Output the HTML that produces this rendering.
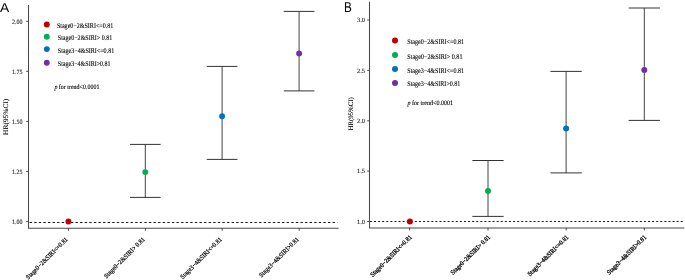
<!DOCTYPE html>
<html><head><meta charset="utf-8"><style>
html,body{margin:0;padding:0;background:#fff;}
body{width:685px;height:280px;overflow:hidden;}
svg{display:block;will-change:transform;} text{text-rendering:geometricPrecision;}
</style></head><body>
<svg width="685" height="280" viewBox="0 0 685 280" font-family="'Liberation Serif', serif">
<text transform="translate(0.1,12.3) scale(1.07,1)" font-family="'Liberation Sans', sans-serif" font-size="12.9" fill="#000">A</text>
<text transform="translate(7.9,116.8) rotate(-90)" font-size="7.0" text-anchor="middle" textLength="36.2" lengthAdjust="spacingAndGlyphs" fill="#000" stroke="#000" stroke-width="0.08" font-family="'Liberation Serif', serif">HR(95%CI)</text>
<line x1="26.2" y1="21.3" x2="28.5" y2="21.3" stroke="#333333" stroke-width="0.9"/>
<text x="22.6" y="23.8" font-size="6.6" text-anchor="end" textLength="10.6" lengthAdjust="spacingAndGlyphs" fill="#222" stroke="#222" stroke-width="0.12" font-family="'Liberation Serif', serif">2.00</text>
<line x1="26.2" y1="71.3" x2="28.5" y2="71.3" stroke="#333333" stroke-width="0.9"/>
<text x="22.6" y="73.8" font-size="6.6" text-anchor="end" textLength="10.6" lengthAdjust="spacingAndGlyphs" fill="#222" stroke="#222" stroke-width="0.12" font-family="'Liberation Serif', serif">1.75</text>
<line x1="26.2" y1="121.4" x2="28.5" y2="121.4" stroke="#333333" stroke-width="0.9"/>
<text x="22.6" y="123.9" font-size="6.6" text-anchor="end" textLength="10.6" lengthAdjust="spacingAndGlyphs" fill="#222" stroke="#222" stroke-width="0.12" font-family="'Liberation Serif', serif">1.50</text>
<line x1="26.2" y1="171.5" x2="28.5" y2="171.5" stroke="#333333" stroke-width="0.9"/>
<text x="22.6" y="174.0" font-size="6.6" text-anchor="end" textLength="10.6" lengthAdjust="spacingAndGlyphs" fill="#222" stroke="#222" stroke-width="0.12" font-family="'Liberation Serif', serif">1.25</text>
<line x1="26.2" y1="221.6" x2="28.5" y2="221.6" stroke="#333333" stroke-width="0.9"/>
<text x="22.6" y="224.1" font-size="6.6" text-anchor="end" textLength="10.6" lengthAdjust="spacingAndGlyphs" fill="#222" stroke="#222" stroke-width="0.12" font-family="'Liberation Serif', serif">1.00</text>
<line x1="28.5" y1="222.5" x2="337.5" y2="222.5" stroke="#1a1a1a" stroke-width="1.0" stroke-dasharray="2.4 2.19" stroke-dashoffset="-1.1"/>
<path d="M28.5,5 L28.5,228.3 L338.6,228.3" fill="none" stroke="#4a4a4a" stroke-width="1.05" stroke-linejoin="round"/>
<line x1="68.4" y1="228.3" x2="68.4" y2="230.8" stroke="#333333" stroke-width="0.9"/>
<line x1="145.4" y1="228.3" x2="145.4" y2="230.8" stroke="#333333" stroke-width="0.9"/>
<line x1="222.2" y1="228.3" x2="222.2" y2="230.8" stroke="#333333" stroke-width="0.9"/>
<line x1="299.2" y1="228.3" x2="299.2" y2="230.8" stroke="#333333" stroke-width="0.9"/>
<circle cx="68.4" cy="221.5" r="2.95" fill="#C00000"/>
<line x1="145.3" y1="144.4" x2="145.3" y2="197.4" stroke="#444" stroke-width="1.0"/>
<line x1="129.95000000000002" y1="144.4" x2="160.65" y2="144.4" stroke="#333333" stroke-width="1.0"/>
<line x1="129.95000000000002" y1="197.4" x2="160.65" y2="197.4" stroke="#333333" stroke-width="1.0"/>
<circle cx="145.3" cy="172.1" r="2.95" fill="#00B050"/>
<line x1="222.1" y1="66.4" x2="222.1" y2="159.4" stroke="#444" stroke-width="1.0"/>
<line x1="206.75" y1="66.4" x2="237.45" y2="66.4" stroke="#333333" stroke-width="1.0"/>
<line x1="206.75" y1="159.4" x2="237.45" y2="159.4" stroke="#333333" stroke-width="1.0"/>
<circle cx="222.1" cy="116.3" r="2.95" fill="#0070C0"/>
<line x1="299.1" y1="11.4" x2="299.1" y2="90.9" stroke="#444" stroke-width="1.0"/>
<line x1="283.75" y1="11.4" x2="314.45000000000005" y2="11.4" stroke="#333333" stroke-width="1.0"/>
<line x1="283.75" y1="90.9" x2="314.45000000000005" y2="90.9" stroke="#333333" stroke-width="1.0"/>
<circle cx="299.1" cy="53.4" r="2.95" fill="#7030A0"/>
<circle cx="46.8" cy="24.5" r="2.95" fill="#C00000"/>
<text x="56.9" y="28.0" font-size="7.2" text-anchor="start" textLength="56.4" lengthAdjust="spacingAndGlyphs" fill="#000" stroke="#000" stroke-width="0.12" font-family="'Liberation Serif', serif">Stage0−2&amp;SIRI&lt;=0.81</text>
<circle cx="46.8" cy="36.7" r="2.95" fill="#00B050"/>
<text x="57.8" y="40.2" font-size="7.2" text-anchor="start" textLength="54.4" lengthAdjust="spacingAndGlyphs" fill="#000" stroke="#000" stroke-width="0.12" font-family="'Liberation Serif', serif">Stage0−2&amp;SIRI&gt; 0.81</text>
<circle cx="46.8" cy="49.1" r="2.95" fill="#0070C0"/>
<text x="57.8" y="52.6" font-size="7.2" text-anchor="start" textLength="56.4" lengthAdjust="spacingAndGlyphs" fill="#000" stroke="#000" stroke-width="0.12" font-family="'Liberation Serif', serif">Stage3−4&amp;SIRI&lt;=0.81</text>
<circle cx="46.8" cy="62.7" r="2.95" fill="#7030A0"/>
<text x="57.8" y="66.2" font-size="7.2" text-anchor="start" textLength="52.8" lengthAdjust="spacingAndGlyphs" fill="#000" stroke="#000" stroke-width="0.12" font-family="'Liberation Serif', serif">Stage3−4&amp;SIRI&gt;0.81</text>
<text x="54.4" y="88.6" font-size="6.7" textLength="45.0" lengthAdjust="spacingAndGlyphs" fill="#000" stroke="#000" stroke-width="0.12" font-family="'Liberation Serif', serif"><tspan font-style="italic">p</tspan> for trend&lt;0.0001</text>
<text transform="translate(68.2,239.8) rotate(-45)" font-size="6.5" text-anchor="end" textLength="56.5" lengthAdjust="spacingAndGlyphs" fill="#000" stroke="#000" stroke-width="0.2" font-family="'Liberation Serif', serif">Stage0−2&amp;SIRI&lt;=0.81</text>
<text transform="translate(145.3,239.8) rotate(-45)" font-size="6.5" text-anchor="end" textLength="55.0" lengthAdjust="spacingAndGlyphs" fill="#000" stroke="#000" stroke-width="0.2" font-family="'Liberation Serif', serif">Stage0−2&amp;SIRI&gt; 0.81</text>
<text transform="translate(222.3,239.8) rotate(-45)" font-size="6.5" text-anchor="end" textLength="56.0" lengthAdjust="spacingAndGlyphs" fill="#000" stroke="#000" stroke-width="0.2" font-family="'Liberation Serif', serif">Stage3−4&amp;SIRI&lt;=0.81</text>
<text transform="translate(299.3,239.8) rotate(-45)" font-size="6.5" text-anchor="end" textLength="53.5" lengthAdjust="spacingAndGlyphs" fill="#000" stroke="#000" stroke-width="0.2" font-family="'Liberation Serif', serif">Stage3−4&amp;SIRI&gt;0.81</text>
<text transform="translate(343.9,11.8) scale(0.82,1)" font-family="'Liberation Sans', sans-serif" font-size="14.3" fill="#000">B</text>
<text transform="translate(352.7,113.9) rotate(-90)" font-size="6.8" text-anchor="middle" textLength="33.3" lengthAdjust="spacingAndGlyphs" fill="#000" stroke="#000" stroke-width="0.08" font-family="'Liberation Serif', serif">HR(95%CI)</text>
<line x1="367.2" y1="20.0" x2="369.5" y2="20.0" stroke="#333333" stroke-width="0.9"/>
<text x="365.0" y="22.3" font-size="6.4" text-anchor="end" textLength="8.0" lengthAdjust="spacingAndGlyphs" fill="#222" stroke="#222" stroke-width="0.12" font-family="'Liberation Serif', serif">3.0</text>
<line x1="367.2" y1="70.4" x2="369.5" y2="70.4" stroke="#333333" stroke-width="0.9"/>
<text x="365.0" y="72.7" font-size="6.4" text-anchor="end" textLength="8.0" lengthAdjust="spacingAndGlyphs" fill="#222" stroke="#222" stroke-width="0.12" font-family="'Liberation Serif', serif">2.5</text>
<line x1="367.2" y1="120.8" x2="369.5" y2="120.8" stroke="#333333" stroke-width="0.9"/>
<text x="365.0" y="123.1" font-size="6.4" text-anchor="end" textLength="8.0" lengthAdjust="spacingAndGlyphs" fill="#222" stroke="#222" stroke-width="0.12" font-family="'Liberation Serif', serif">2.0</text>
<line x1="367.2" y1="171.1" x2="369.5" y2="171.1" stroke="#333333" stroke-width="0.9"/>
<text x="365.0" y="173.4" font-size="6.4" text-anchor="end" textLength="8.0" lengthAdjust="spacingAndGlyphs" fill="#222" stroke="#222" stroke-width="0.12" font-family="'Liberation Serif', serif">1.5</text>
<line x1="367.2" y1="221.5" x2="369.5" y2="221.5" stroke="#333333" stroke-width="0.9"/>
<text x="365.0" y="223.8" font-size="6.4" text-anchor="end" textLength="8.0" lengthAdjust="spacingAndGlyphs" fill="#222" stroke="#222" stroke-width="0.12" font-family="'Liberation Serif', serif">1.0</text>
<line x1="369.5" y1="221.5" x2="683.0" y2="221.5" stroke="#1a1a1a" stroke-width="1.0" stroke-dasharray="2.0 2.09" stroke-dashoffset="-0.4"/>
<path d="M369.5,1.8 L369.5,227.9 L684.3,227.9" fill="none" stroke="#4a4a4a" stroke-width="1.05" stroke-linejoin="round"/>
<line x1="409.6" y1="227.9" x2="409.6" y2="230.4" stroke="#333333" stroke-width="0.9"/>
<line x1="488.0" y1="227.9" x2="488.0" y2="230.4" stroke="#333333" stroke-width="0.9"/>
<line x1="566.2" y1="227.9" x2="566.2" y2="230.4" stroke="#333333" stroke-width="0.9"/>
<line x1="644.4" y1="227.9" x2="644.4" y2="230.4" stroke="#333333" stroke-width="0.9"/>
<circle cx="409.9" cy="221.6" r="3.0" fill="#C00000"/>
<line x1="488.0" y1="160.5" x2="488.0" y2="216.4" stroke="#444" stroke-width="1.0"/>
<line x1="472.35" y1="160.5" x2="503.65" y2="160.5" stroke="#333333" stroke-width="1.0"/>
<line x1="472.35" y1="216.4" x2="503.65" y2="216.4" stroke="#333333" stroke-width="1.0"/>
<circle cx="488.0" cy="191.1" r="3.0" fill="#00B050"/>
<line x1="566.1" y1="71.4" x2="566.1" y2="172.9" stroke="#444" stroke-width="1.0"/>
<line x1="550.45" y1="71.4" x2="581.75" y2="71.4" stroke="#333333" stroke-width="1.0"/>
<line x1="550.45" y1="172.9" x2="581.75" y2="172.9" stroke="#333333" stroke-width="1.0"/>
<circle cx="566.1" cy="128.6" r="3.0" fill="#0070C0"/>
<line x1="644.3" y1="8.0" x2="644.3" y2="120.4" stroke="#444" stroke-width="1.0"/>
<line x1="628.65" y1="8.0" x2="659.9499999999999" y2="8.0" stroke="#333333" stroke-width="1.0"/>
<line x1="628.65" y1="120.4" x2="659.9499999999999" y2="120.4" stroke="#333333" stroke-width="1.0"/>
<circle cx="644.3" cy="70.1" r="3.0" fill="#7030A0"/>
<circle cx="395.0" cy="40.4" r="3.0" fill="#C00000"/>
<text x="407.3" y="43.9" font-size="7.2" text-anchor="start" textLength="56.8" lengthAdjust="spacingAndGlyphs" fill="#000" stroke="#000" stroke-width="0.12" font-family="'Liberation Serif', serif">Stage0−2&amp;SIRI&lt;=0.81</text>
<circle cx="395.0" cy="55.0" r="3.0" fill="#00B050"/>
<text x="407.3" y="58.5" font-size="7.2" text-anchor="start" textLength="55.2" lengthAdjust="spacingAndGlyphs" fill="#000" stroke="#000" stroke-width="0.12" font-family="'Liberation Serif', serif">Stage0−2&amp;SIRI&gt; 0.81</text>
<circle cx="395.0" cy="69.1" r="3.0" fill="#0070C0"/>
<text x="407.3" y="72.6" font-size="7.2" text-anchor="start" textLength="56.8" lengthAdjust="spacingAndGlyphs" fill="#000" stroke="#000" stroke-width="0.12" font-family="'Liberation Serif', serif">Stage3−4&amp;SIRI&lt;=0.81</text>
<circle cx="395.0" cy="82.9" r="3.0" fill="#7030A0"/>
<text x="407.3" y="86.4" font-size="7.2" text-anchor="start" textLength="53.1" lengthAdjust="spacingAndGlyphs" fill="#000" stroke="#000" stroke-width="0.12" font-family="'Liberation Serif', serif">Stage3−4&amp;SIRI&gt;0.81</text>
<text x="407.4" y="104.6" font-size="6.7" textLength="45.7" lengthAdjust="spacingAndGlyphs" fill="#000" stroke="#000" stroke-width="0.12" font-family="'Liberation Serif', serif"><tspan font-style="italic">p</tspan> for trend&lt;0.0001</text>
<text transform="translate(412.3,237.6) rotate(-45)" font-size="6.5" text-anchor="end" textLength="56.0" lengthAdjust="spacingAndGlyphs" fill="#000" stroke="#000" stroke-width="0.28" font-family="'Liberation Serif', serif">Stage0−2&amp;SIRI&lt;=0.81</text>
<text transform="translate(490.6,237.6) rotate(-45)" font-size="6.5" text-anchor="end" textLength="53.0" lengthAdjust="spacingAndGlyphs" fill="#000" stroke="#000" stroke-width="0.28" font-family="'Liberation Serif', serif">Stage0−2&amp;SIRI&gt; 0.81</text>
<text transform="translate(568.8,237.6) rotate(-45)" font-size="6.5" text-anchor="end" textLength="55.0" lengthAdjust="spacingAndGlyphs" fill="#000" stroke="#000" stroke-width="0.28" font-family="'Liberation Serif', serif">Stage3−4&amp;SIRI&lt;=0.81</text>
<text transform="translate(646.8,237.6) rotate(-45)" font-size="6.5" text-anchor="end" textLength="53.0" lengthAdjust="spacingAndGlyphs" fill="#000" stroke="#000" stroke-width="0.28" font-family="'Liberation Serif', serif">Stage3−4&amp;SIRI&gt;0.81</text>
</svg>
</body></html>
